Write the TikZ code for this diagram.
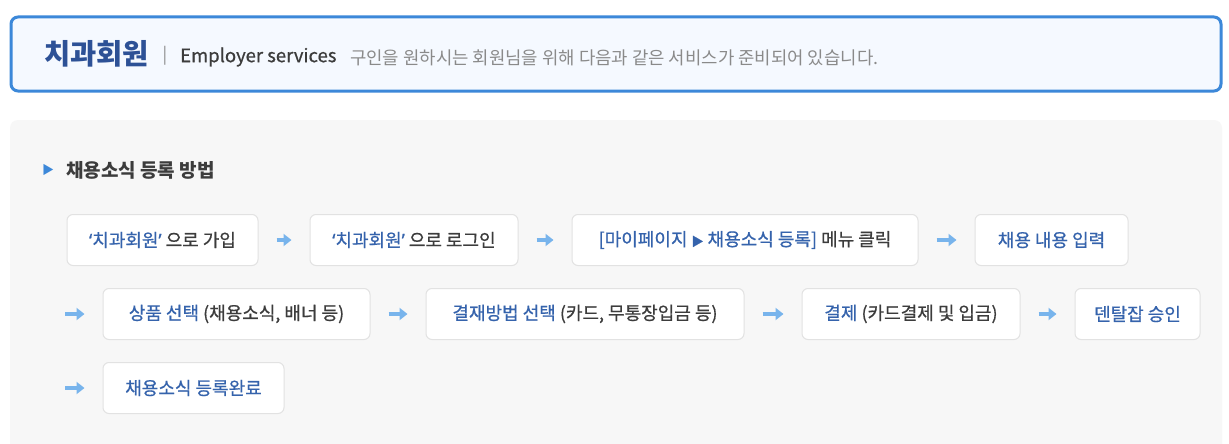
\documentclass[tikz,border=0pt]{standalone}
\usepackage{fontspec}
\setmainfont{Noto Sans CJK KR}
\newfontfamily\medfont{Noto Sans CJK KR}[FakeBold=0.7]
\newfontfamily\latinfont{Noto Sans}[FakeBold=0.7]
\usetikzlibrary{arrows.meta}

\definecolor{hdblue}{HTML}{3C88D9}
\definecolor{hdfill}{HTML}{F5F9FF}
\definecolor{panelgray}{HTML}{F7F7F7}
\definecolor{boxline}{HTML}{E2E2E2}
\definecolor{keyblue}{HTML}{3563AC}
\definecolor{titleblue}{HTML}{2D5196}
\definecolor{darktxt}{HTML}{3C3C3C}
\definecolor{subgray}{HTML}{8A8A8A}
\definecolor{arrowblue}{HTML}{78B4EC}

\newcommand{\kb}[1]{{\color{keyblue}#1}}
\newcommand{\oq}{{\latinfont ‘}}
\newcommand{\cq}{{\latinfont ’}}
\newcommand{\smalltri}{{\fontsize{12}{14}\selectfont ▶}}

\tikzset{
  stepbox/.style={draw=boxline, line width=1pt, fill=white, rounded corners=6pt,
    minimum height=51pt, inner sep=0pt, text=darktxt,
    font=\fontsize{18}{20}\selectfont\medfont},
  flow/.style={draw=arrowblue, line width=4pt,
    -{Triangle[length=8pt,width=12pt]}, shorten <=18pt, shorten >=18pt},
}

\begin{document}
\begin{tikzpicture}[x=1pt,y=-1pt]
            \useasboundingbox (0,0) rectangle (1229,444);
            \fill[white] (0,0) rectangle (1229,444);

            \node[draw=hdblue, line width=3pt, fill=hdfill, rounded corners=7pt,
              minimum width=1210pt, minimum height=74pt] (head) at (616,54) {};
            \node[anchor=west, inner sep=0pt, text=titleblue, font=\fontsize{28.5}{31}\selectfont\bfseries] (title) at (44,54) {치과회원};
            \node[inner sep=0pt, text=subgray, font=\fontsize{17}{20}\selectfont] (bar) at (165,56) {|};
            \node[anchor=west, inner sep=0pt, text=darktxt, font=\fontsize{18.5}{20}\selectfont\medfont] (employer) at (180,57) {Employer services};
            \node[anchor=west, inner sep=0pt, text=subgray, font=\fontsize{17.8}{20}\selectfont] (intro) at (350,58) {구인을 원하시는 회원님을 위해 다음과 같은 서비스가 준비되어 있습니다.};

            \fill[panelgray, rounded corners=8pt] (10,120) rectangle (1222,470);

            \node[inner sep=0pt, text=hdblue, font=\fontsize{12}{14}\selectfont] (mark) at (48,170) {▶};
            \node[anchor=west, inner sep=0pt, text=darktxt, font=\fontsize{19}{21}\selectfont\bfseries] (howto) at (66,170) {채용소식 등록 방법};

            \node[stepbox, minimum width=191pt] (join) at (162.5,240) {\kb{\oq 치과회원\cq} 으로 가입};
            \node[stepbox, minimum width=208pt] (login) at (414,240) {\kb{\oq 치과회원\cq} 으로 로그인};
            \node[stepbox, minimum width=346pt] (menu) at (745,240) {\kb{[마이페이지 \smalltri{} 채용소식 등록]} 메뉴 클릭};
            \node[stepbox, minimum width=153pt] (write) at (1051.5,240) {\kb{채용 내용 입력}};

            \coordinate (wrap1) at (47,314);
            \node[stepbox, minimum width=267pt] (goods) at (236.5,314) {\kb{상품 선택} (채용소식, 배너 등)};
            \node[stepbox, minimum width=318pt] (method) at (585,314) {\kb{결재방법 선택} (카드, 무통장입금 등)};
            \node[stepbox, minimum width=218pt] (pay) at (911,314) {\kb{결제} (카드결제 및 입금)};
            \node[stepbox, minimum width=125pt] (approve) at (1137.5,314) {\kb{덴탈잡 승인}};

            \coordinate (wrap2) at (47,388);
            \node[stepbox, minimum width=181pt] (done) at (193.5,388) {\kb{채용소식 등록완료}};

            \path[flow] (join) -- (login);
            \path[flow] (login) -- (menu);
            \path[flow] (menu) -- (write);
            \path[flow] (wrap1) -- (goods);
            \path[flow] (goods) -- (method);
            \path[flow] (method) -- (pay);
            \path[flow] (pay) -- (approve);
            \path[flow] (wrap2) -- (done);

        \end{tikzpicture}
\end{document}
